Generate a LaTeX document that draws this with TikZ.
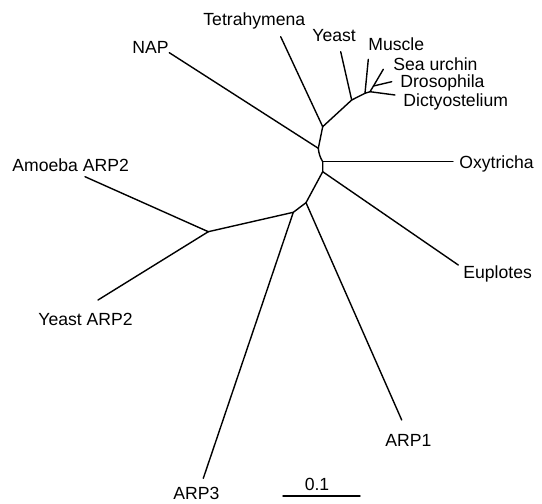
\documentclass[tikz,border=0pt]{standalone}
\usepackage{fontspec}
\setmainfont{Liberation Sans}

\tikzset{
	,x = 0.5pt, y = -0.5pt
	,font = \fontsize{8.8}{10}\selectfont
	,taxon/.style  = {anchor=west, inner sep=0pt, text height=0.72em, text depth=0pt}
	,scalel/.style = {anchor=center, inner sep=0pt, text height=0.72em, text depth=0pt}
	,branch/.style = {-, line width=0.7pt, line cap=round, line join=round}
}

\begin{document}
\begin{tikzpicture}
				\useasboundingbox (0,0) rectangle (542,504);
				% inner nodes
				\coordinate (t1) at (322.7,126.7);
				\coordinate (n1) at (318.3,148.3);
				\coordinate (n2) at (322.7,161.7);
				\coordinate (n3) at (322.7,171.7);
				\coordinate (n4) at (306.0,202.7);
				\coordinate (n5) at (293.3,212.3);
				\coordinate (n6) at (208.3,231.7);
				\coordinate (c1) at (351.7,100.0);
				\coordinate (c2) at (365.0,93.3);
				\coordinate (c3) at (370.0,91.7);
				\coordinate (c4) at (373.5,86.0);
				% tips
				\coordinate (tTet)  at (280.7,36.7);
				\coordinate (tNap)  at (169.3,52.7);
				\coordinate (tYst)  at (340.7,51.7);
				\coordinate (tMus)  at (368.3,59.3);
				\coordinate (tSea)  at (383.3,69.3);
				\coordinate (tDro)  at (391.7,81.7);
				\coordinate (tDic)  at (395.0,95.0);
				\coordinate (tOxy)  at (453.0,161.7);
				\coordinate (tEup)  at (458.3,265.0);
				\coordinate (tArp1) at (401.7,420.0);
				\coordinate (tArp3) at (203.3,478.3);
				\coordinate (tYarp) at (98.0,300.0);
				\coordinate (tAarp) at (85.0,176.7);
				% labels
				\node[taxon] at (203,18.5)  (lTet)  {Tetrahymena};
				\node[taxon] at (132,46)    (lNap)  {NAP};
				\node[taxon] at (312,34.5)  (lYst)  {Yeast};
				\node[taxon] at (368,43.5)  (lMus)  {Muscle};
				\node[taxon] at (393,63.5)  (lSea)  {Sea urchin};
				\node[taxon] at (400,80.5)  (lDro)  {Drosophila};
				\node[taxon] at (403,99.5)  (lDic)  {Dictyostelium};
				\node[taxon] at (459,161.5) (lOxy)  {Oxytricha};
				\node[taxon] at (463,271.5) (lEup)  {Euplotes};
				\node[taxon] at (385,439)   (lArp1) {ARP1};
				\node[taxon] at (173,492)   (lArp3) {ARP3};
				\node[taxon] at (38,318.5)  (lYarp) {Yeast ARP2};
				\node[taxon] at (12,164.5)  (lAarp) {Amoeba ARP2};
				% backbone
				\draw[branch] (t1) -- (n1) to[bend right=12] (n2) -- (n3) -- (n4) -- (n5) -- (n6);
				\draw[branch] (t1) -- (c1) -- (c2) -- (c3) -- (c4);
				% leaves
				\draw[branch] (t1) edge (tTet);
				\draw[branch] (n1) edge (tNap);
				\draw[branch] (c1) edge (tYst);
				\draw[branch] (c2) edge (tMus);
				\draw[branch] (c4) edge (tSea);
				\draw[branch] (c4) edge (tDro);
				\draw[branch] (c3) edge (tDic);
				\draw[branch] (n2) edge (tOxy);
				\draw[branch] (n3) edge (tEup);
				\draw[branch] (n4) edge (tArp1);
				\draw[branch] (n5) edge (tArp3);
				\draw[branch] (n6) edge (tYarp);
				\draw[branch] (n6) edge (tAarp);
				% scale
				\coordinate (sbl) at (283,496);
				\coordinate (sbr) at (360,496);
				\draw[branch] (sbl) -- (sbr);
				\node[scalel] at (317,483) (sbt) {0.1};
			\end{tikzpicture}
\end{document}
